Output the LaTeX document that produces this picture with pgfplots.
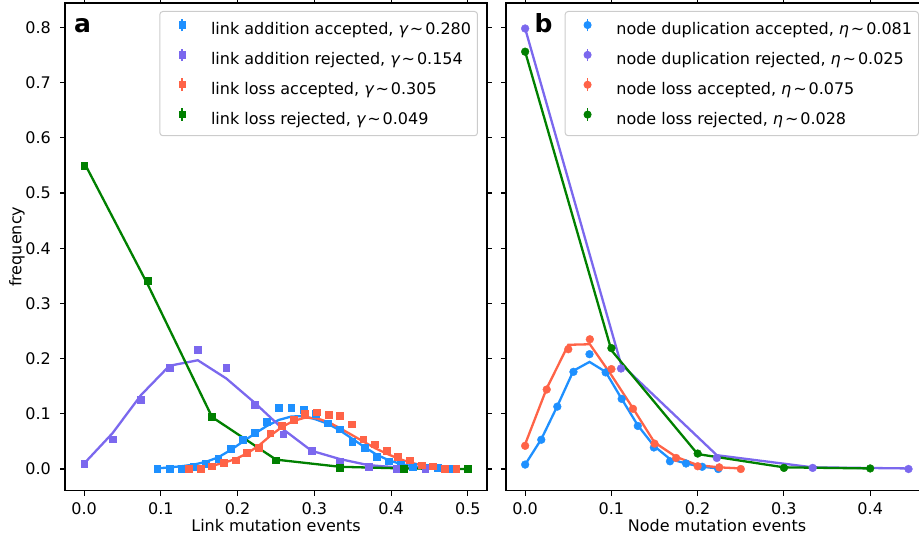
\documentclass[border=0pt]{standalone}
\usepackage{fontspec}
\setmainfont{DejaVu Sans}
\usepackage{pgfplots}
\usepackage{pgfplotstable}
\pgfplotsset{compat=1.18}
\definecolor{cblue}{RGB}{30,144,255}
\definecolor{cpurple}{RGB}{123,104,238}
\definecolor{cred}{RGB}{255,99,71}
\definecolor{cgreen}{RGB}{0,128,0}
\newcommand{\fs}{\fontsize{16}{19}\selectfont}

% left panel: x, marker value, line value
\pgfplotstableread{
x m l
0.0952 0.000 0.001
0.1111 0.000 0.003
0.1270 0.001 0.005
0.1429 0.004 0.008
0.1587 0.009 0.013
0.1746 0.018 0.021
0.1905 0.037 0.034
0.2063 0.053 0.049
0.2222 0.066 0.064
0.2381 0.086 0.078
0.2540 0.111 0.089
0.2698 0.111 0.095
0.2857 0.108 0.096
0.3016 0.100 0.090
0.3175 0.083 0.082
0.3333 0.072 0.070
0.3492 0.049 0.055
0.3651 0.039 0.040
0.3810 0.022 0.026
0.3968 0.014 0.016
0.4127 0.008 0.009
0.4286 0.004 0.005
0.4444 0.002 0.002
0.4603 0.002 0.001
0.4762 0.000 0.000
}\blueL
\pgfplotstableread{
x m l
0.0000 0.010 0.010
0.0370 0.054 0.065
0.0741 0.126 0.134
0.1111 0.184 0.187
0.1481 0.216 0.197
0.1852 0.184 0.164
0.2222 0.117 0.120
0.2593 0.063 0.072
0.2963 0.033 0.033
0.3333 0.014 0.018
0.3704 0.004 0.007
0.4074 0.001 0.003
0.4444 0.001 0.001
}\purpleL
\pgfplotstableread{
x m l
0.1364 0.001 0.001
0.1515 0.000 0.003
0.1667 0.005 0.006
0.1818 0.011 0.011
0.1970 0.016 0.018
0.2121 0.030 0.028
0.2273 0.039 0.042
0.2424 0.065 0.060
0.2576 0.079 0.076
0.2727 0.090 0.087
0.2879 0.100 0.093
0.3030 0.103 0.092
0.3182 0.099 0.085
0.3333 0.096 0.074
0.3485 0.081 0.062
0.3636 0.054 0.050
0.3788 0.045 0.038
0.3939 0.033 0.028
0.4091 0.022 0.019
0.4242 0.016 0.012
0.4394 0.007 0.007
0.4545 0.005 0.004
0.4697 0.001 0.002
0.4848 0.000 0.001
}\redL
\pgfplotstableread{
x m l
0.0000 0.549 0.555
0.0833 0.341 0.333
0.1667 0.095 0.094
0.2500 0.016 0.017
0.3333 0.003 0.004
0.4167 0.000 0.001
0.5000 0.000 0.000
}\greenL
% right panel
\pgfplotstableread{
x m l
0.0000 0.008 0.008
0.0187 0.053 0.054
0.0373 0.113 0.114
0.0560 0.176 0.178
0.0746 0.208 0.194
0.0933 0.175 0.176
0.1119 0.127 0.127
0.1306 0.078 0.079
0.1492 0.039 0.042
0.1679 0.014 0.018
0.1865 0.010 0.010
0.2052 0.004 0.004
0.2238 0.000 0.001
}\blueR
\pgfplotstableread{
x m l
0.0000 0.798 0.798
0.1111 0.182 0.190
0.2222 0.020 0.025
0.3333 0.002 0.003
0.4444 0.000 0.001
}\purpleR
\pgfplotstableread{
x m l
0.000 0.042 0.045
0.025 0.144 0.146
0.050 0.217 0.225
0.075 0.235 0.226
0.100 0.181 0.170
0.125 0.109 0.110
0.150 0.046 0.048
0.175 0.020 0.022
0.200 0.005 0.007
0.225 0.003 0.003
0.250 0.000 0.001
}\redR
\pgfplotstableread{
x m l
0.0 0.756 0.756
0.1 0.219 0.215
0.2 0.028 0.027
0.3 0.002 0.003
0.4 0.001 0.001
}\greenR

\pgfplotsset{
  mk/.style={only marks, mark size=3.4pt, mark options={line width=0.4pt}},
  ln/.style={no marks, line width=2.3pt, line join=round},
  panel/.style={
    scale only axis, width=422pt, height=487.7pt, anchor=south west,
    ymin=-0.0393, ymax=0.8442,
    ytick={0,0.1,0.2,0.3,0.4,0.5,0.6,0.7,0.8},
    tick align=outside, major tick length=4.9pt,
    every tick/.style={black, line width=1.1pt},
    axis line style={line width=1.1pt},
    /pgf/number format/assume math mode=true,
    tick label style={font=\fs, inner sep=0pt},
    xticklabel style={/pgf/number format/.cd, fixed, fixed zerofill, precision=1},
    yticklabel style={/pgf/number format/.cd, fixed, fixed zerofill, precision=1},
    xticklabel shift=7.3pt, yticklabel shift=9pt,
    label style={font=\fs},
    xlabel style={at={(axis description cs:0.5,-0.0841)}, anchor=base},
    ylabel style={at={(axis description cs:-0.1137,0.5)}, anchor=center},
    legend cell align=left,
    legend style={at={(1,1)}, anchor=north east, xshift=-9pt, yshift=-8pt,
      draw=black!20, line width=1pt, rounded corners=3pt, fill=white,
      inner xsep=6.4pt, inner ysep=6.4pt, font=\fs,
      row sep=8pt, column sep=12.8pt,
      nodes={inner sep=0pt, text height=14.7pt, text depth=5pt}},
    legend image code/.code={
      \path[draw=none, fill=none] (0pt,0pt) rectangle (32pt,9.7pt);
      \draw[##1, mark=none, line width=1.6pt, sharp corners] (16pt,-1.5pt) -- (16pt,11.2pt);
      \draw[##1, only marks, sharp corners] plot coordinates {(16pt,4.85pt)};
    },
  },
}

\begin{document}
\begin{tikzpicture}
\useasboundingbox (0,0) rectangle (919pt,540pt);
% ---------------- panel a ----------------
\begin{axis}[panel, at={(65pt,49.3pt)},
  xmin=-0.025, xmax=0.525,
  xtick={0,0.1,0.2,0.3,0.4,0.5},
  xlabel={Link mutation events}, ylabel={frequency}]
\addplot[cblue, mk, mark=square*, forget plot] table[x=x,y=m] {\blueL};
\addplot[cblue, no marks, line width=2.3pt, forget plot] table[x=x,y=l] {\blueL};
\addplot[cpurple, mk, mark=square*, forget plot] table[x=x,y=m] {\purpleL};
\addplot[cpurple, no marks, line width=2.3pt, forget plot] table[x=x,y=l] {\purpleL};
\addplot[cred, mk, mark=square*, forget plot] table[x=x,y=m] {\redL};
\addplot[cred, no marks, line width=2.3pt, forget plot] table[x=x,y=l] {\redL};
\addplot[cgreen, mk, mark=square*, forget plot] table[x=x,y=m] {\greenL};
\addplot[cgreen, no marks, line width=2.3pt, forget plot] table[x=x,y=l] {\greenL};
\addlegendimage{cblue, mark=square*, mark size=3.2pt}
\addlegendentry{link addition accepted, {\itshape γ}\hspace{0.12em}∼\hspace{0.12em}0.280}
\addlegendimage{cpurple, mark=square*, mark size=3.2pt}
\addlegendentry{link addition rejected, {\itshape γ}\hspace{0.12em}∼\hspace{0.12em}0.154}
\addlegendimage{cred, mark=square*, mark size=3.2pt}
\addlegendentry{link loss accepted, {\itshape γ}\hspace{0.12em}∼\hspace{0.12em}0.305}
\addlegendimage{cgreen, mark=square*, mark size=3.2pt}
\addlegendentry{link loss rejected, {\itshape γ}\hspace{0.12em}∼\hspace{0.12em}0.049}
\node[anchor=base west, inner sep=0pt, xshift=9pt, yshift=-29.3pt,
  font=\bfseries\fontsize{25}{25}\selectfont] at (rel axis cs:0,1) {a};
\end{axis}
% ---------------- panel b ----------------
\begin{axis}[panel, at={(506pt,49.3pt)},
  xmin=-0.0222, xmax=0.467,
  xtick={0,0.1,0.2,0.3,0.4},
  yticklabels={},
  xlabel={Node mutation events}]
\addplot[cblue, mk, mark=*, mark size=3.9pt, forget plot] table[x=x,y=m] {\blueR};
\addplot[cblue, no marks, line width=2.3pt, forget plot] table[x=x,y=l] {\blueR};
\addplot[cpurple, mk, mark=*, mark size=3.9pt, forget plot] table[x=x,y=m] {\purpleR};
\addplot[cpurple, no marks, line width=2.3pt, forget plot] table[x=x,y=l] {\purpleR};
\addplot[cred, mk, mark=*, mark size=3.9pt, forget plot] table[x=x,y=m] {\redR};
\addplot[cred, no marks, line width=2.3pt, forget plot] table[x=x,y=l] {\redR};
\addplot[cgreen, mk, mark=*, mark size=3.9pt, forget plot] table[x=x,y=m] {\greenR};
\addplot[cgreen, no marks, line width=2.3pt, forget plot] table[x=x,y=l] {\greenR};
\addlegendimage{cblue, mark=*, mark size=3.5pt}
\addlegendentry{node duplication accepted, {\itshape η}\hspace{0.12em}∼\hspace{0.12em}0.081}
\addlegendimage{cpurple, mark=*, mark size=3.5pt}
\addlegendentry{node duplication rejected, {\itshape η}\hspace{0.12em}∼\hspace{0.12em}0.025}
\addlegendimage{cred, mark=*, mark size=3.5pt}
\addlegendentry{node loss accepted, {\itshape η}\hspace{0.12em}∼\hspace{0.12em}0.075}
\addlegendimage{cgreen, mark=*, mark size=3.5pt}
\addlegendentry{node loss rejected, {\itshape η}\hspace{0.12em}∼\hspace{0.12em}0.028}
\node[anchor=base west, inner sep=0pt, xshift=28.5pt, yshift=-29.3pt,
  font=\bfseries\fontsize{25}{25}\selectfont] at (rel axis cs:0,1) {b};
\end{axis}
\end{tikzpicture}
\end{document}
